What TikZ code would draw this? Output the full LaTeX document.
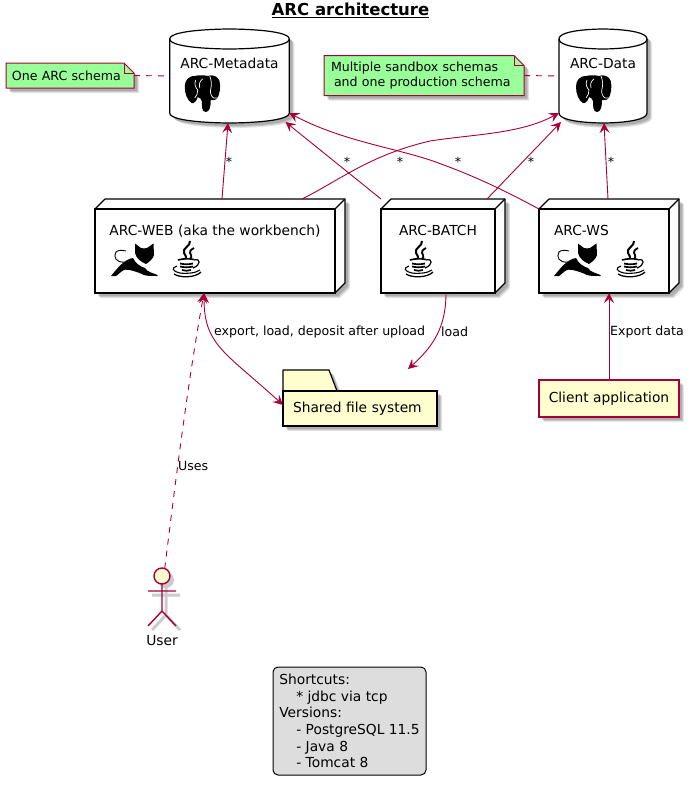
\documentclass[tikz,border=0pt]{standalone}
\usepackage{fontspec}
\setmainfont{DejaVu Sans}
\usetikzlibrary{arrows.meta,backgrounds,shadows}
\definecolor{umlred}{HTML}{A80036}
\definecolor{umlcream}{HTML}{FEFECE}
\definecolor{umlgreen}{HTML}{99FF99}
\definecolor{umlgrey}{HTML}{DDDDDD}
\tikzset{
  softshadow/.style={
    drop shadow={shadow xshift=5pt,shadow yshift=-5pt,opacity=.10,fill=black},
    drop shadow={shadow xshift=4pt,shadow yshift=-4pt,opacity=.12,fill=black},
    drop shadow={shadow xshift=3pt,shadow yshift=-3pt,opacity=.14,fill=black}},
  txt/.style={font=\fontsize{13.8}{16}\selectfont},
  small/.style={font=\fontsize{12.6}{15}\selectfont},
  thing/.style={txt, outer sep=0pt, inner sep=0pt, align=center},
  boxnode/.style={thing, draw, line width=1.2pt, minimum height=84},
  body/.style={line width=1.2pt, fill=white, softshadow, line join=round},
  link/.style={draw=umlred, line width=0.9pt},
  dashlink/.style={link, dash pattern=on 6pt off 6pt},
  note/.style={small, outer sep=0pt, inner sep=0pt, align=left},
  notebody/.style={draw=umlred, line width=1pt, fill=umlgreen, softshadow},
  pics/elephant/.style={code={
    \fill[black] (10,1) .. controls (3,1) and (0,6) .. (0,12)
      .. controls (0,19) and (3,26) .. (7,28) .. controls (9,29) and (12,26) .. (13,22)
      .. controls (15,23) and (17,24) .. (17,26) .. controls (17,31) and (17,37) .. (21,37)
      .. controls (25,37) and (26,31) .. (26,25) .. controls (30,26) and (33,24) .. (34,20)
      .. controls (36,15) and (36,5) .. (33,3) .. controls (30,0) and (26,0) .. (23,1)
      .. controls (19,0) and (14,0) .. (10,1) -- cycle;
    \draw[white, line width=.7pt] (11,5) .. controls (9,9) and (11,13) .. (13,15) .. controls (13,18) and (12,21) .. (10,23);
    \draw[white, line width=.7pt] (25,1) .. controls (27,6) and (27,10) .. (26,14) .. controls (25,17) and (26,21) .. (29,23) -- (33,23);
    \draw[white, line width=.7pt] (18,4) .. controls (15,6) and (14,9) .. (15,13);
  }},
  pics/tomcat/.style={code={
    \fill[black] (24,.5) -- (30,5) .. controls (32,5.5) and (34,5.5) .. (36,5) -- (42.5,.5)
      -- (43,12) .. controls (42,16) and (38,19) .. (35,21) .. controls (30,19) and (25,15) .. (24,10) -- cycle;
    \fill[black] (0,33) .. controls (5,27) and (13,16) .. (22,15) .. controls (24,20) and (30,24) .. (34,25)
      .. controls (36,29) and (42,30) .. (46.5,32) -- (46.5,33) .. controls (40,33) and (36,33) .. (33,32)
      .. controls (27,29) and (18,26) .. (13,27) .. controls (9,29) and (7,32) .. (5,33) -- cycle;
    \draw[black, line width=.9pt] (14,19) .. controls (5,20) and (2,14) .. (5,9) .. controls (7,7) and (11,7) .. (15,8);
    \draw[white, line width=.6pt] (14,27) .. controls (17,27) and (20,28) .. (22,30);
  }},
  pics/java/.style={code={
    \draw[black, line width=2pt] (18,0) .. controls (19,5) and (10,7) .. (12,12) .. controls (13,15) and (15,15) .. (14,18);
    \draw[black, line width=1.8pt] (22,7) .. controls (18,9) and (17,11) .. (19,14) .. controls (20,16) and (19,17) .. (18,18);
    \draw[black, line width=1.6pt] (6,19) .. controls (11,17.5) and (17,17.5) .. (22,18.5);
    \draw[black, line width=1.7pt] (8,22.5) .. controls (12,23.5) and (17,23.5) .. (21,22.5);
    \draw[black, line width=1.7pt] (8,25.5) .. controls (12,26.5) and (17,26.5) .. (21,25.5);
    \draw[black, line width=1.7pt] (10,29) .. controls (13,30) and (16,30) .. (19,29);
    \draw[black, line width=1.2pt] (22,19) .. controls (29,17) and (29,24) .. (21,27);
    \draw[black, line width=1.1pt] (5,25) .. controls (-1,27) and (0,30) .. (8,32) .. controls (15,33) and (24,32) .. (28,29);
    \draw[black, line width=1.3pt] (2,33) .. controls (8,37) and (23,37) .. (29,31);
  }}
}
% the 3d box round a node
\newcommand{\nodedepth}[1]{
  \draw[body] (#1.north west) -- ++(10,-10) -- ([shift={(10,-10)}]#1.north east)
    -- ([shift={(10,-10)}]#1.south east) -- (#1.south east) -- (#1.south west) -- cycle;
  \draw[line width=1.2pt] (#1.north east) -- ([shift={(10,-10)}]#1.north east);
}
% the cylinder round a node
\newcommand{\nodecylinder}[1]{
  \draw[body] ([yshift=-10pt]#1.north west) .. controls (#1.north west) and (#1.north) .. (#1.north)
    .. controls (#1.north) and (#1.north east) .. ([yshift=-10pt]#1.north east)
    -- ([yshift=10pt]#1.south east) .. controls (#1.south east) and (#1.south) .. (#1.south)
    .. controls (#1.south) and (#1.south west) .. ([yshift=10pt]#1.south west) -- cycle;
  \draw[line width=1.2pt] ([yshift=-10pt]#1.north west) .. controls ([yshift=-20pt]#1.north west) and ([yshift=-20pt]#1.north) .. ([yshift=-20pt]#1.north)
    .. controls ([yshift=-20pt]#1.north) and ([yshift=-20pt]#1.north east) .. ([yshift=-10pt]#1.north east);
}
% the folded note round a node
\newcommand{\nodefold}[1]{
  \draw[notebody] (#1.north west) -- ([xshift=-10pt]#1.north east) -- ([yshift=-10pt]#1.north east)
    -- (#1.south east) -- (#1.south west) -- cycle;
  \draw[umlred, line width=1pt] ([xshift=-10pt]#1.north east) -- ++(0,10) -- ([yshift=-10pt]#1.north east);
}
\begin{document}
\begin{tikzpicture}[x=1pt, y=-1pt, >={Stealth[length=10pt,width=10pt,inset=4pt]}]
\useasboundingbox (0,0) rectangle (700,785);
% title
\node[font=\fontsize{16.5}{20}\bfseries\selectfont] (title) at (350.5,10) {\underline{ARC architecture}};
% databases
\node[thing, minimum width=119.5, minimum height=94] (meta) at (229.5,76) {ARC-Metadata\\[10pt]~};
\node[thing, minimum width=88, minimum height=94] (data) at (603,76) {ARC-Data\\[10pt]~};
% notes
\node[note, minimum width=128, minimum height=25, text width=116] (onenote) at (70,75.5) {One ARC schema};
\node[note, minimum width=200, minimum height=40, text width=186] (manynote) at (424,75.5)
  {Multiple sandbox schemas\\\hspace*{3pt}and one production schema};
% nodes
\node[boxnode, minimum width=240] (web) at (215,251) {ARC-WEB (aka the workbench)\\[26pt]~};
\node[boxnode, minimum width=114] (batch) at (438,251) {ARC-BATCH\\[26pt]~};
\node[boxnode, minimum width=130, text width=100, align=left] (ws) at (604,251) {ARC-WS\\[26pt]~};
% folder and client
\node[thing, draw, line width=1.2pt, minimum width=154, minimum height=35, text width=134, align=left] (folder) at (360,408.5) {Shared file system};
\node[thing, draw=umlred, line width=1.2pt, fill=umlcream, softshadow, minimum width=140, minimum height=37] (client) at (609,398.5) {Client application};
% actor
\node[circle, draw=umlred, line width=1.4pt, fill=umlcream, minimum size=16, inner sep=0pt, outer sep=0pt] (userhead) at (162,576) {};
\node[txt] (user) at (162,641) {User};
% legend
\node[draw, line width=1pt, fill=umlgrey, rounded corners=5pt, outer sep=0pt, inner sep=0pt,
  minimum width=153, minimum height=108, align=left, font=\fontsize{13.8}{16.6}\selectfont] (legend) at (349.5,721)
  {Shortcuts:\\\hspace*{17pt}* jdbc via tcp\\Versions:\\\hspace*{17pt}- PostgreSQL 11.5\\\hspace*{17pt}- Java 8\\\hspace*{17pt}- Tomcat 8};
% bodies under the nodes
\begin{scope}[on background layer]
\foreach \n in {meta,data} {\nodecylinder{\n}}
\foreach \n in {web,batch,ws} {\nodedepth{\n}}
\foreach \n in {onenote,manynote} {\nodefold{\n}}
\draw[body, fill=umlcream] (folder.north west) -- ++(0,-21) -- ++(46,0) -- ++(8,21) -- (folder.north east)
  -- (folder.south east) -- (folder.south west) -- cycle;
\draw[line width=3pt, black!20] ([shift={(4,4)}]userhead.south) -- ++(0,27) -- ++(-14,15) ([shift={(4,4)}]userhead.south) ++(0,27) -- ++(14,15)
  ([shift={(4,4)}]userhead.south) ++(-14,7) -- ++(28,0);
\fill[black!20] ([shift={(4,4)}]userhead) circle (8);
\end{scope}
\draw[umlred, line width=1.4pt] (userhead.south) -- ++(0,27) -- ++(-14,15) (userhead.south) ++(0,27) -- ++(14,15)
  (userhead.south) ++(-14,7) -- ++(28,0);
% icons
\foreach \n/\dx in {meta/15,data/17} {\pic at ([shift={(\dx,-48)}]\n.south west) {elephant};}
\foreach \n/\dx in {web/16,ws/15} {\pic at ([shift={(\dx,-50)}]\n.south west) {tomcat};}
\foreach \n/\dx in {web/77,batch/23,ws/77} {\pic at ([shift={(\dx,-52)}]\n.south west) {java};}
% note links
\draw[dashlink] (onenote.east) -- (meta.west);
\draw[dashlink] (manynote.east) -- (data.west);
% links to the databases
\draw[link, ->] ([shift={(7,-10)}]web.north) -- ([xshift=-1.5pt]meta.south);
\draw[link, ->] ([shift={(-57,-10)}]batch.north) -- ([xshift=56pt,yshift=1pt]meta.south);
\draw[link, ->] (ws.north west) .. controls (500,188) and (470,174) .. (430,160)
  .. controls (390,147) and (340,140) .. ([yshift=10pt]meta.south east);
\draw[link, ->] ([shift={(87,-10)}]web.north) .. controls (340,180) and (370,155) .. (430,141)
  .. controls (475,134) and (520,134) .. ([yshift=10pt]data.south west);
\draw[link, ->] ([shift={(49,-10)}]batch.north) -- ([xshift=-42pt,yshift=1pt]data.south);
\draw[link, ->] ([shift={(4,-10)}]ws.north) -- ([xshift=1pt]data.south);
% stars
\foreach \i/\x in {1/229,2/347,3/400,4/458,5/531,6/611} {\node[small] (star\i) at (\x,162) {*};}
% links below
\draw[link, <->] ([xshift=-11pt]web.south) .. controls (204,345) and (225,352) .. ([yshift=-14pt]folder.north west);
\draw[link, ->] ([xshift=8pt]batch.south) .. controls (446,325) and (435,345) .. ([shift={(48,-22)}]folder.north);
\draw[link, ->] (client.north) -- ([xshift=5pt]ws.south);
\draw[dashlink, ->] (userhead.70) .. controls (178,460) and (190,370) .. ([xshift=-11pt]web.south);
% labels
\node[small, anchor=west, inner sep=0pt] (exportlbl) at (214,332) {export, load, deposit after upload};
\node[small, anchor=west, inner sep=0pt] (loadlbl) at (441,332) {load};
\node[small, anchor=west, inner sep=0pt] (datalbl) at (610,332) {Export data};
\node[small, anchor=west, inner sep=0pt] (useslbl) at (178,466) {Uses};
\end{tikzpicture}
\end{document}
